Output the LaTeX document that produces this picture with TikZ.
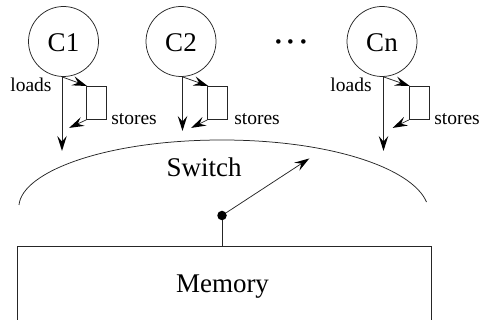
\documentclass[tikz,border=0pt]{standalone}
\usepackage{fontspec}
\setmainfont{Liberation Serif}
\usetikzlibrary{arrows.meta}
\tikzset{
  x=1pt,y=-1pt,
  ln/.style={line width=0.75pt,draw=black!85},
  arr/.style={ln,-{Stealth[length=15pt,width=9.5pt,inset=5.5pt,fill=black,line width=0pt]},shorten >=-1pt},
  cpu/.style={circle,ln,minimum size=70pt,inner sep=0pt,text height=20.4pt,text depth=0pt,font=\fontsize{27}{29}\selectfont},
  buf/.style={rectangle,ln,minimum width=20pt,minimum height=33.5pt,inner sep=0pt},
  lab/.style={inner sep=0pt,anchor=base,font=\fontsize{19.5}{22}\selectfont},
  big/.style={inner sep=0pt,anchor=base,font=\fontsize{27}{29}\selectfont},
  dot/.style={circle,fill=black,inner sep=0pt,minimum size=9.5pt}
}
\begin{document}
\begin{tikzpicture}
\useasboundingbox (0,0) rectangle (482,320);
% processors
\node[cpu] (c1) at (63.5,41.5) {C1};
\node[cpu] (c2) at (181,41.5) {C2};
\node[cpu] (cn) at (382,41.5) {Cn};
\node[inner sep=0pt,anchor=base,font=\fontsize{38}{40}\selectfont] (dots) at (291,54.5) {···};
% buffers
\node[buf] (b1) at (96.5,102.8) {};
\node[buf] (b2) at (217.7,102.8) {};
\node[buf] (bn) at (419.2,102.8) {};
% free ends
\coordinate (l1) at (62,150);
\coordinate (l2) at (182.5,130);
\coordinate (ln) at (383.5,150);
\coordinate (s1) at (70,127.5);
\coordinate (s2) at (192,127.5);
\coordinate (sn) at (393.5,127.5);
% load and store arrows
\draw[arr] (c1.south) ++(-1.5,0) coordinate (o1) -- (l1);
\draw[arr] (c2.south) ++(1.5,0) coordinate (o2) -- (l2);
\draw[arr] (cn.south) ++(1.5,0) coordinate (on) -- (ln);
\draw[arr] (o1) -- (b1.north west);
\draw[arr] (o2) -- (b2.north west);
\draw[arr] (on) -- (bn.north west);
\draw[arr] (b1.south west) -- (s1);
\draw[arr] (b2.south west) -- (s2);
\draw[arr] (bn.south west) -- (sn);
% labels
\node[lab] (tl1) at (31,91.5) {loads};
\node[lab] (tl3) at (351,91.5) {loads};
\node[lab] (ts1) at (134,124.3) {stores};
\node[lab] (ts2) at (257,124.3) {stores};
\node[lab] (tsn) at (457,124.3) {stores};
% switch
\coordinate (swl) at (19,205);
\coordinate (swr) at (426.5,202);
\draw[ln] (swl) .. controls (22,172) and (105,140) .. (222,140)
  .. controls (330,140) and (412,168) .. (swr);
\node[big] (sw) at (204,176.7) {Switch};
\node[dot] (pv) at (222,215.5) {};
\coordinate (pt) at (308.5,159);
\draw[arr] (pv) -- (pt);
% memory
\coordinate (mtl) at (17.5,246);
\coordinate (mtr) at (431.5,246);
\coordinate (mbl) at (17.5,321);
\coordinate (mbr) at (431.5,321);
\draw[ln] (mbl) -- (mtl) -- (mtr) -- (mbr);
\coordinate (mt) at (222,246);
\draw[ln] (pv) -- (mt);
\node[big] (mem) at (222.5,292.7) {Memory};
\end{tikzpicture}
\end{document}
